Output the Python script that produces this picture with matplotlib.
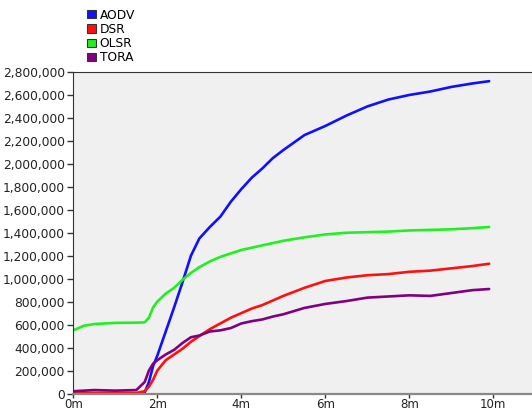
import matplotlib
matplotlib.use("Agg")
import matplotlib.pyplot as plt
from matplotlib.patches import Patch
from matplotlib.ticker import FuncFormatter

# sample times (minutes) and series values
minutes = [0, 0.25, 0.5, 1.0, 1.5, 1.7, 1.8, 1.9, 2.0, 2.2, 2.4, 2.6, 2.8, 3.0, 3.25,
           3.5, 3.75, 4.0, 4.25, 4.5, 4.75, 5.0, 5.5, 6.0, 6.5, 7.0, 7.5, 8.0, 8.5,
           9.0, 9.5, 9.9]
aodv = [0, 0, 0, 0, 0, 10000, 100000, 240000, 330000, 540000, 750000, 970000, 1200000,
        1350000, 1450000, 1540000, 1670000, 1780000, 1880000, 1960000, 2050000, 2120000,
        2250000, 2330000, 2420000, 2500000, 2560000, 2600000, 2630000, 2670000, 2700000,
        2720000]
dsr = [5000, 5000, 5000, 5000, 5000, 20000, 60000, 120000, 200000, 290000, 340000, 390000,
       450000, 500000, 560000, 610000, 660000, 700000, 740000, 770000, 810000, 850000,
       920000, 980000, 1010000, 1030000, 1040000, 1060000, 1070000, 1090000, 1110000,
       1130000]
olsr = [550000, 590000, 605000, 615000, 617000, 620000, 660000, 750000, 800000, 870000,
        920000, 990000, 1050000, 1100000, 1150000, 1190000, 1220000, 1250000, 1270000,
        1290000, 1310000, 1330000, 1360000, 1385000, 1400000, 1405000, 1410000, 1420000,
        1425000, 1430000, 1440000, 1450000]
tora = [20000, 25000, 30000, 25000, 30000, 100000, 200000, 260000, 290000, 340000, 380000,
        440000, 490000, 505000, 540000, 550000, 570000, 610000, 630000, 645000, 670000,
        690000, 745000, 780000, 805000, 835000, 845000, 855000, 850000, 875000, 900000,
        910000]

names = ["AODV", "DSR", "OLSR", "TORA"]
colors = ["#1010ff", "#ff1010", "#20f020", "#800080"]
x_ticks = [0, 2, 4, 6, 8, 10]

plt.rcParams['font.family'] = 'DejaVu Sans'

fig = plt.figure(figsize=(5.32, 4.13), dpi=100)
ax = fig.add_axes([0.1378, 0.0472, 0.8622, 0.7785])
ax.set_facecolor("#f0f0f0")

for series, c in zip([aodv, dsr, olsr, tora], colors):
    ax.plot(minutes, series, color=c, lw=1.9, solid_capstyle='round')

ax.set_xlim(0, 10.92)
ax.set_ylim(0, 2800000)
ax.set_xticks(x_ticks)
ax.set_xticklabels([f"{t}m" for t in x_ticks])
ax.set_yticks(range(0, 2800001, 200000))
ax.yaxis.set_major_formatter(FuncFormatter(lambda v, p: f"{int(v):,}"))
ax.tick_params(direction='out', length=4, width=1, colors='#333333',
               labelsize=8.8, labelcolor='#222222', pad=2)
ax.tick_params(axis='x', length=3, pad=0.5, labelsize=8.5)

ax.spines['right'].set_visible(False)
ax.spines['top'].set_color('#333333')
ax.spines['left'].set_color('#333333')
ax.spines['bottom'].set_color('#888888')
ax.spines['bottom'].set_linewidth(1.6)

handles = [Patch(facecolor=c, edgecolor='#333333', linewidth=0.8) for c in colors]
fig.legend(handles, names, loc='upper left', bbox_to_anchor=(0.147, 1.0),
           frameon=False, fontsize=8.8, handlelength=0.75, handleheight=0.65,
           handletextpad=0.3, labelspacing=0.1, borderpad=0.2)

fig.savefig("out.png", dpi=100)
